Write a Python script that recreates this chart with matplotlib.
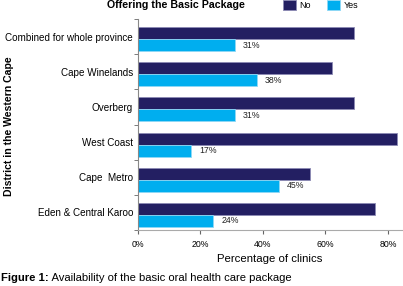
import matplotlib
matplotlib.use("Agg")
import matplotlib.pyplot as plt
import numpy as np

plt.rcParams["font.family"] = ["Liberation Sans", "DejaVu Sans"]

districts = ["Combined for whole province", "Cape Winelands", "Overberg",
             "West Coast", "Cape  Metro", "Eden & Central Karoo"]
pct_no = [69, 62, 69, 83, 55, 76]
pct_yes = [31, 38, 31, 17, 45, 24]
xticks = [0, 20, 40, 60, 80]

NO_COLOR = "#231f62"
YES_COLOR = "#00aeef"

fig = plt.figure(figsize=(4.03, 2.86), dpi=100)
ax = fig.add_axes([138 / 403, 1 - 230 / 286, 264 / 403, 211 / 286])

y = np.arange(len(districts))
h = 0.34
off = 0.07
ax.barh(y - h / 2 + off, pct_no, height=h, color=NO_COLOR,
        edgecolor="#8c8ab4", linewidth=0.6, label="No")
ax.barh(y + h / 2 + off, pct_yes, height=h, color=YES_COLOR,
        edgecolor="#8fd8f5", linewidth=0.6, label="Yes")
for i, v in enumerate(pct_yes):
    ax.text(v + 2.6, y[i] + h / 2 + off, f"{v}%", va="center", ha="left",
            fontsize=6.3, color="#222222")

ax.set_xlim(0, 84.5)
ax.set_ylim(len(districts) - 0.5, -0.5)
ax.set_xticks(xticks)
ax.set_xticklabels([f"{t}%" for t in xticks], fontsize=6.3)
ax.set_yticks(y)
ax.set_yticklabels(districts, fontsize=7.1)
ax.tick_params(axis="y", length=0, pad=3.5)
ax.set_yticks(np.arange(-0.5, len(districts), 1.0), minor=True)
ax.tick_params(axis="y", which="minor", length=3, color="#666666")
ax.tick_params(axis="x", length=3, color="#666666", pad=4.5)

for s in ["top", "right"]:
    ax.spines[s].set_visible(False)
ax.spines["left"].set_color("#888888")
ax.spines["bottom"].set_color("#aaaaaa")
ax.spines["left"].set_linewidth(0.8)
ax.spines["bottom"].set_linewidth(0.8)

ax.set_xlabel("Percentage of clinics", fontsize=8.2, labelpad=3)
fig.text(0.022, 1 - 126 / 286, "District in the Western Cape", rotation=90,
         fontsize=7.6, fontweight="bold", ha="center", va="center")

fig.text(176 / 403, 1 - 5 / 286, "Offering the Basic Package", fontsize=7.7,
         fontweight="bold", ha="center", va="center")
leg = ax.legend(loc="upper left", bbox_to_anchor=(283 / 403, 1.0),
                bbox_transform=fig.transFigure, ncol=2, frameon=False,
                fontsize=6.5, handlelength=1.4, handleheight=1.25,
                columnspacing=1.9, handletextpad=0.35, borderpad=0,
                borderaxespad=0)

cap = fig.text(0.003, 1 - 278 / 286, "Figure 1:", fontsize=8.1,
               fontweight="bold", ha="left", va="center")
ax.annotate(" Availability of the basic oral health care package",
            xy=(1, 0.5), xycoords=cap, fontsize=8.1, ha="left", va="center")

fig.savefig("out.png", dpi=100)
